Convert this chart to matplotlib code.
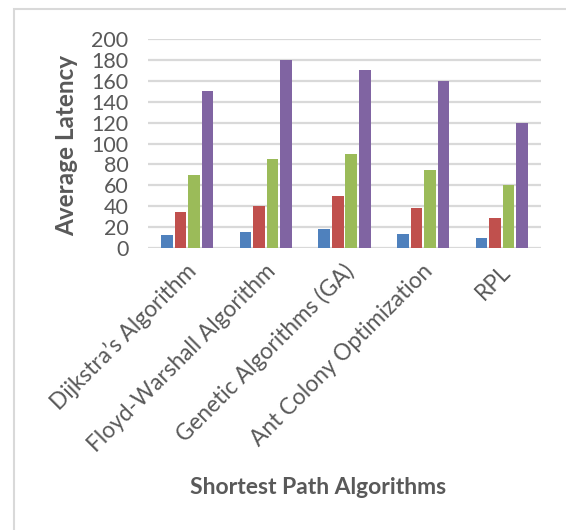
import matplotlib
matplotlib.use("Agg")
import matplotlib.pyplot as plt
import matplotlib.transforms as mtransforms
from matplotlib.patches import Rectangle
import numpy as np

categories = ["Dijkstra\u2019s Algorithm", "Floyd-Warshall Algorithm",
              "Genetic Algorithms (GA)", "Ant Colony Optimization", "RPL"]
series1 = [12, 15, 18, 13, 10]
series2 = [34, 40, 50, 38, 29]
series3 = [70, 85, 90, 75, 60]
series4 = [150, 180, 170, 160, 120]
yticks = [0, 20, 40, 60, 80, 100, 120, 140, 160, 180, 200]

colors = ["#4F81BD", "#C0504D", "#9BBB59", "#8064A2"]
text_color = "#595959"
grid_color = "#D9D9D9"

plt.rcParams['font.family'] = ['Lato', 'DejaVu Sans']

W, H = 566, 530
fig = plt.figure(figsize=(W / 100, H / 100), dpi=100)
ax = fig.add_axes([148 / W, 1 - 248 / H, (541 - 148) / W, (248 - 39) / H])

x = np.arange(len(categories))
slot = 0.1725
bw = 0.148
for i, (vals, c) in enumerate(zip([series1, series2, series3, series4], colors)):
    ax.bar(x + (i - 1.5) * slot, vals, width=bw, color=c, zorder=3)

ax.set_xlim(-0.5, len(categories) - 0.5)
ax.set_ylim(0, 200)
ax.set_yticks(yticks)
ax.set_yticklabels([str(t) for t in yticks])
ax.grid(axis='y', color=grid_color, linewidth=1.6, zorder=0)
for s in ax.spines.values():
    s.set_visible(False)
ax.tick_params(axis='both', length=0, colors=text_color, labelsize=15.5)
ax.tick_params(axis='y', pad=14)

ax.set_xticks(x)
ax.set_xticklabels([])
offset = mtransforms.ScaledTranslation(6 / 100, -20 / 100, fig.dpi_scale_trans)
for xi, lab in zip(x, categories):
    ax.text(xi, 0, lab, transform=ax.get_xaxis_transform() + offset,
            rotation=45, ha='right', va='center', rotation_mode='anchor',
            fontsize=16.3, color=text_color)

fig.text(67 / W, 1 - 146 / H, "Average Latency", rotation=90, ha='center', va='center',
         fontsize=17.5, fontweight='bold', color=text_color)
fig.text(318 / W, 1 - 487 / H, "Shortest Path Algorithms", ha='center', va='center',
         fontsize=16.5, fontweight='bold', color=text_color)

fig.patches.append(Rectangle((14 / W, -0.1), 1.2, 1 - 9 / H + 0.1, transform=fig.transFigure,
                             fill=False, edgecolor=grid_color, linewidth=1.5))

fig.savefig("out.png", dpi=100, facecolor='white')
